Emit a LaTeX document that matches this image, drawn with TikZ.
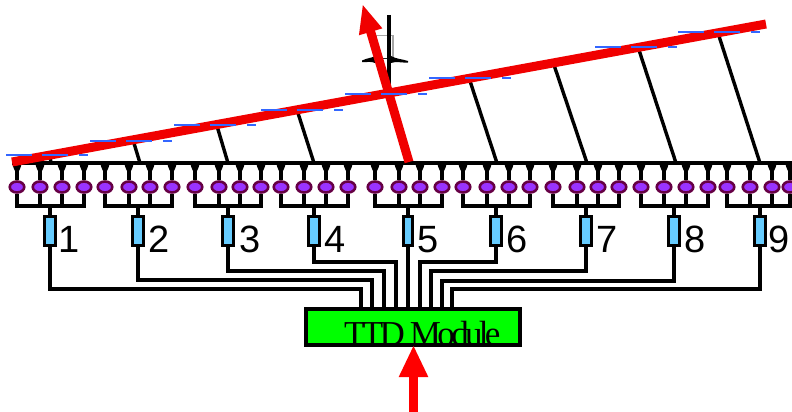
\documentclass[tikz,border=0pt]{standalone}
\usepackage{fontspec}
\setmainfont{Liberation Serif}
\setsansfont{Liberation Sans}
\usetikzlibrary{shapes.geometric,arrows.meta}
\definecolor{beamred}{HTML}{F00000}
\definecolor{arrowred}{HTML}{FF0000}
\definecolor{dashblue}{HTML}{3366FF}
\definecolor{elemfill}{HTML}{9933FF}
\definecolor{elemedge}{HTML}{660044}
\definecolor{resfill}{HTML}{66CCFF}
\definecolor{modgreen}{HTML}{00FF00}
\tikzset{
  wire/.style={draw=black,line width=3.2pt,line join=miter},
  tie/.style={draw=black,line width=3.4pt},
  element/.style={ellipse,draw=elemedge,fill=elemfill,line width=2.6pt,minimum width=14.5pt,minimum height=11pt,inner sep=0pt},
  resistor/.style={rectangle,draw=black,fill=resfill,line width=3pt,minimum width=11.5pt,minimum height=29.5pt,inner sep=0pt},
  digit/.style={anchor=base west,inner sep=0pt,font=\sffamily\fontsize{38}{40}\selectfont},
  bluedash/.style={draw=dashblue,line width=2.4pt},
  beam/.style={draw=beamred,line width=9pt},
  module/.style={rectangle,draw=black,fill=modgreen,line width=3.2pt,minimum width=214pt,minimum height=36pt,inner sep=0pt},
  modlabel/.style={anchor=base west,inner sep=0pt,font=\fontsize{35}{38}\selectfont\addfontfeature{LetterSpace=-10.5}},
}
\begin{document}
\begin{tikzpicture}[x=1pt,y=-1pt]
\clip (0,0) rectangle (792,412);
\useasboundingbox (0,0) rectangle (792,412);
\fill[white] (0,0) rectangle (792,412);

% module and named references
\node[module] (ttd) at (413,327) {};
\coordinate (busW) at (12,163);
\coordinate (busE) at (792,163);
\coordinate (subY) at (0,206);

% main feed line
\draw[wire] (busW) -- (busE);

% antenna subgroups
\foreach \n/\c/\a/\b/\d/\e/\lx/\rw in {
  1/50/17/40/62/84/58/11.5,
  2/138/105/129/150/172/148/11.5,
  3/228/195/219/240/261/239/11.5,
  4/314/281/304/326/348/324/11.5,
  5/408/375/399/420/442/417/9,
  6/496/463/487/509/530/506/11.5,
  7/586/553/577/598/619/596/11.5,
  8/674/641/664/686/708/684/11.5,
  9/760/727/750/772/790/768/11.5}{
  \node[resistor,minimum width=\rw pt] (r\n) at (\c,231) {};
  \node[digit] (l\n) at (\lx,252) {\n};
  \foreach \k/\ex in {1/\a,2/\b,3/\d,4/\e}{
    \node[element] (e\n-\k) at (\ex,187) {};
    \draw[wire] (e\n-\k.north |- busW) -- (e\n-\k.north);
    \draw[wire] (e\n-\k.south) -- (e\n-\k.south |- subY);
    \fill[black] (\ex-4.5,164) .. controls (\ex-4,168) and (\ex-2,170) .. (\ex-1.5,172) -- (\ex+1.5,172) .. controls (\ex+2,170) and (\ex+4,168) .. (\ex+4.5,164) -- cycle;
  }
  \draw[wire] ([xshift=-1.6pt]e\n-1.south |- subY) -- ([xshift=1.6pt]e\n-4.south |- subY);
  \draw[wire] (r\n.north |- subY) -- (r\n.north);
}

% routing to the TTD module
\foreach \n/\tx/\ry in {1/361/289,2/372/280,3/384/271,4/396/262,6/420/262,7/431/271,8/442/281,9/452/289}{
  \coordinate (j\n) at (\tx,\ry);
  \draw[wire] (r\n.south) |- (j\n) -- (j\n |- ttd.north);
}
\draw[wire] (r5.south) -- (r5.south |- ttd.north);
\node[module] at (ttd) {};
\node[modlabel] (ttdlabel) at (344,345) {TTD Module};

% subarray ties
\foreach \n/\tx/\ty/\bx in {1/50/156/51,2/133/140/140,3/217/126/228,4/297/110/314,6/469/78/497,7/553/62/587,8/638/47/676,9/718/33/760}{
  \coordinate (tt\n) at (\tx,\ty);
  \coordinate (tb\n) at (\bx,163);
  \draw[tie] (tt\n) -- (tb\n);
}

% antenna symbol
\draw[gray!70,line width=1.5pt] (376,58) -- (376,35.5) -- (393,35.5) -- (393,58);
\draw[black!85,line width=1pt] (376,58.5) -- (393,58.5);
\draw[black,line width=3.8pt] (389,15) -- (389,98);
\fill[black] (362,60.5) .. controls (367,58) and (372,58) .. (375,56) -- (375,63) .. controls (371,61) and (367,62.5) .. (362,62) -- cycle;
\fill[black] (408,61) .. controls (402,59) and (396,59) .. (391,56) -- (391,63) .. controls (396,61) and (402,63) .. (408,62.5) -- cycle;

% beam wavefront
\coordinate (beamA) at (12,162);
\coordinate (beamB) at (766,24);
\draw[beam] (beamA) -- (beamB);

% main lobe arrow
\coordinate (lobeA) at (409,162);
\coordinate (lobeB) at (362.5,4);
\draw[draw=beamred,fill=beamred,line width=9pt,-{Triangle[width=22pt,length=29pt]}] (lobeA) -- (lobeB);

% phase dashes
\foreach \x/\y in {6/155,90/141,174/125,261/110,345/94,429/78,595/47,678/32}{
  \draw[bluedash] (\x,\y) -- +(26,0) (\x+36,\y) -- +(26,0) (\x+73,\y) -- +(9,0);
}

% input arrow
\coordinate (inA) at (413.5,412);
\coordinate (inB) at (413.5,345);
\draw[draw=arrowred,fill=arrowred,line width=9.5pt,-{Triangle[width=27pt,length=32pt]}] (inA) -- (inB);
\end{tikzpicture}
\end{document}
